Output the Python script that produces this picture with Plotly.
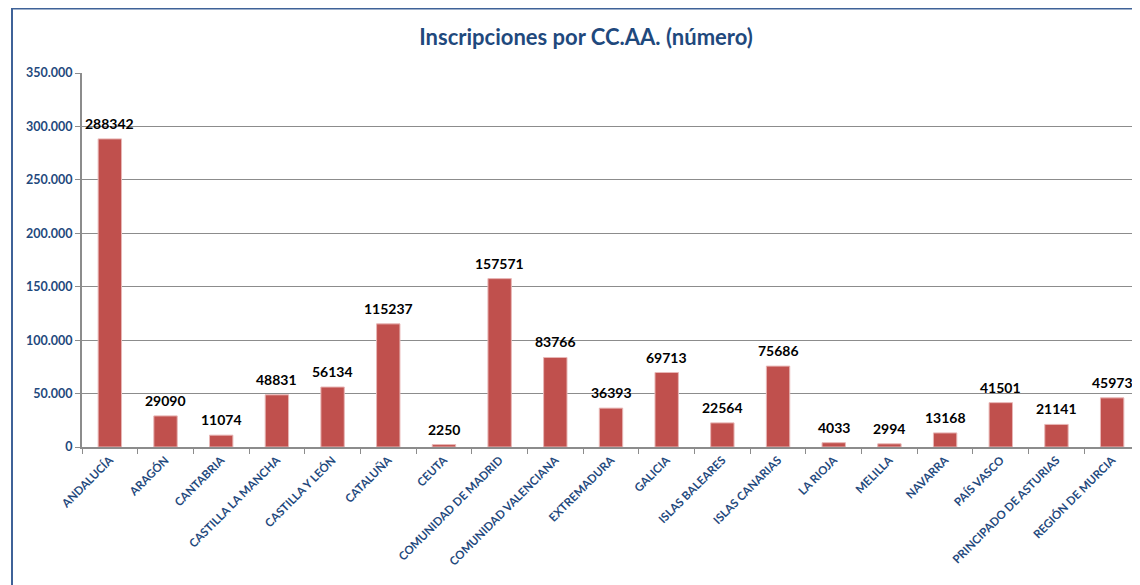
import plotly.graph_objects as go

categories = ["ANDALUCÍA", "ARAGÓN", "CANTABRIA", "CASTILLA LA MANCHA", "CASTILLA Y LEÓN",
              "CATALUÑA", "CEUTA", "COMUNIDAD DE MADRID", "COMUNIDAD VALENCIANA", "EXTREMADURA",
              "GALICIA", "ISLAS BALEARES", "ISLAS CANARIAS", "LA RIOJA", "MELILLA", "NAVARRA",
              "PAÍS VASCO", "PRINCIPADO DE ASTURIAS", "REGIÓN DE MURCIA"]
values = [288342, 29090, 11074, 48831, 56134, 115237, 2250, 157571, 83766, 36393,
          69713, 22564, 75686, 4033, 2994, 13168, 41501, 21141, 45973]
y_ticks = [0, 50000, 100000, 150000, 200000, 250000, 300000, 350000]

title_text = "Inscripciones por CC.AA. (número)"
font_family = "Lato, 'Open Sans', sans-serif"
blue = "#1F497D"

fig = go.Figure(go.Bar(
    x=categories, y=values,
    marker=dict(color="#C0504D", line=dict(color="#E8B7B6", width=1)),
    width=0.42,
))

for c, v in zip(categories, values):
    fig.add_annotation(x=c, y=v, text=str(v), showarrow=False,
                       yanchor="bottom", yshift=5,
                       font=dict(family=font_family, size=14, color="black", weight="bold"))

# page is offset by the body margin (8px), so work in figure pixels
OFF = 8
FW, FH = 1140 - OFF, 585 - OFF
L, T = 82 - OFF, 73 - OFF
B = FH - (447 - OFF)
H = FH - T - B
W = FW - L

def px_x(p):
    return (p - OFF - L) / W

def px_y(p):
    return (447 - p) / H

fig.add_shape(type="rect", xref="paper", yref="paper",
              x0=px_x(12), x1=px_x(1170), y0=px_y(640), y1=px_y(8.5),
              line=dict(color="#3F6298", width=2), fillcolor="rgba(0,0,0,0)", layer="below")

fig.update_layout(
    width=FW, height=FH,
    margin=dict(l=L, r=0, t=T, b=B),
    paper_bgcolor="white", plot_bgcolor="white",
    separators=",.",
    showlegend=False,
    title=dict(text=title_text, x=px_x(586), xref="paper", xanchor="center",
               y=1 - (37 - OFF) / FH, yanchor="middle",
               font=dict(family=font_family, size=22, color=blue, weight="bold")),
    font=dict(family=font_family),
    bargap=0.58,
)
fig.update_yaxes(range=[0, 350000], tickvals=y_ticks, tickformat=",d",
                 showgrid=True, gridcolor="#8C8C8C", gridwidth=1,
                 showline=True, linecolor="#8C8C8C", linewidth=2,
                 ticks="outside", ticklen=5, tickcolor="#8C8C8C",
                 tickfont=dict(family=font_family, size=12.5, color=blue, weight="bold"),
                 zeroline=False, fixedrange=True)
fig.update_xaxes(tickangle=-45, tickson="boundaries", ticks="outside", ticklen=5,
                 tickcolor="#8C8C8C",
                 showline=True, linecolor="#8C8C8C", linewidth=2,
                 tickfont=dict(family=font_family, size=11.5, color=blue, weight="bold"),
                 fixedrange=True)

fig.write_html("out.html")
